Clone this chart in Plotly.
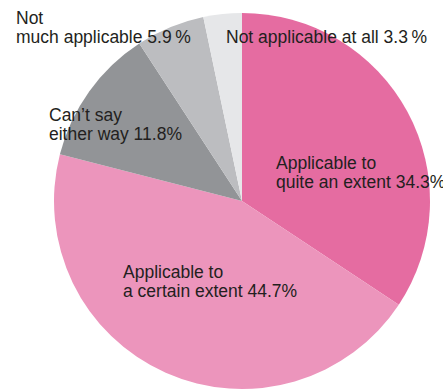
import plotly.graph_objects as go

categories = ["Applicable to quite an extent", "Applicable to a certain extent",
              "Can't say either way", "Not much applicable", "Not applicable at all"]
values = [34.3, 44.7, 11.8, 5.9, 3.3]
colors = ["#E56CA1", "#EC95BC", "#929497", "#BCBDC0", "#E6E7E9"]

label_lines = [
    ["Applicable to", "quite an extent 34.3%"],
    ["Applicable to", "a certain extent 44.7%"],
    ["Can\u2019t say", "either way 11.8%"],
    ["Not", "much applicable 5.9\u2009%"],
    ["Not applicable at all 3.3\u2009%"],
]
# label anchor positions in pixels (left x, centre y of first line)
label_pos = [(274, 163), (121, 272), (47, 115), (14, 18), (224, 37)]

W, H = 443, 390
fig = go.Figure(go.Pie(
    labels=categories, values=values, sort=False, direction="clockwise",
    rotation=0, marker=dict(colors=colors, line=dict(width=0)),
    textinfo="none", hoverinfo="label+percent",
    domain=dict(x=[53 / W, 431 / W], y=[1 - 389 / H, 1 - 13 / H]),
    showlegend=False,
))

annotations = []
for lines, (px, py) in zip(label_lines, label_pos):
    for i, line in enumerate(lines):
        annotations.append(dict(
            text=line, x=px / W, y=1 - (py + i * 18.5) / H, xref="paper", yref="paper",
            xanchor="left", yanchor="middle", showarrow=False,
            font=dict(family="Liberation Sans, Arial, sans-serif", size=17.5, color="#231F20"),
        ))

fig.update_layout(
    width=W, height=H, margin=dict(l=0, r=0, t=0, b=0),
    paper_bgcolor="white", plot_bgcolor="white", annotations=annotations,
)
fig.write_html("out.html", config={"displayModeBar": False},
               post_script="document.body.style.margin='0';")
